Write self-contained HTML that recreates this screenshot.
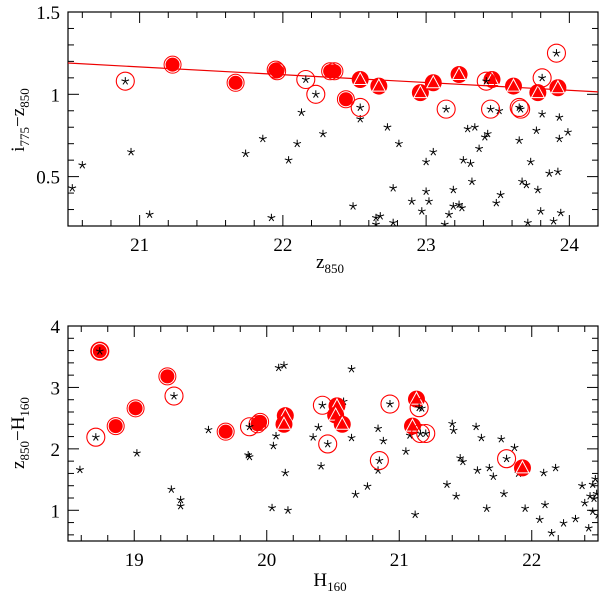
<!DOCTYPE html>
<html><head><meta charset="utf-8"><style>
body{margin:0;background:#fff;}
svg text{font-family:"Liberation Serif",serif;fill:#000;}
</style></head><body>
<svg id="chart" width="600" height="600" viewBox="0 0 600 600" xmlns="http://www.w3.org/2000/svg"></svg>
<script>
// ---------- TOP PANEL DATA (z850 vs i775-z850) ----------
const topFilledX=[21.23,21.67,21.96,21.95,22.33,22.36,22.44];
const topFilledY=[1.18,1.07,1.14,1.15,1.14,1.14,0.97];
const topTriX=[22.54,22.67,22.96,23.05,23.23,23.46,23.61,23.78,23.92];
const topTriY=[1.09,1.05,1.01,1.07,1.12,1.09,1.05,1.01,1.04];
const topOpenX=[20.90,22.16,22.23,22.54,23.14,23.42,23.45,23.65,23.66,23.81,23.91];
const topOpenY=[1.08,1.09,1.00,0.92,0.91,1.08,0.91,0.92,0.91,1.10,1.25];
const topStarX=[20.53,20.60,20.94,21.07,21.74,21.86,21.92,22.04,22.10,22.13,22.28,22.49,22.54,22.65,22.68,22.65,22.73,22.77,22.77,22.81,22.90,22.97,23.00,23.00,23.02,23.05,23.13,23.16,23.19,23.19,23.23,23.25,23.26,23.29,23.31,23.32,23.34,23.37,23.41,23.43,23.49,23.51,23.52,23.65,23.67,23.70,23.71,23.73,23.77,23.78,23.80,23.81,23.86,23.89,23.92,23.93,23.93,23.94,23.99];
const topStarY=[0.43,0.57,0.65,0.27,0.64,0.73,0.25,0.60,0.70,0.89,0.76,0.32,0.85,0.25,0.26,0.21,0.80,0.43,0.22,0.70,0.35,0.29,0.59,0.41,0.35,0.65,0.21,0.27,0.42,0.32,0.33,0.31,0.60,0.79,0.58,0.47,0.80,0.67,0.74,0.76,0.34,0.90,0.39,0.72,0.47,0.45,0.22,0.59,0.78,0.42,0.29,0.88,0.52,0.23,0.53,0.73,0.86,0.28,0.77];
const topLineX=[20.5,24.2];
const topLineY=[1.19,1.015];
const topXTicks=[21,22,23,24];
const topYTicks=[0.5,1,1.5];
// ---------- BOTTOM PANEL DATA (H160 vs z850-H160) ----------
const botFilledX=[18.74,18.86,19.01,19.25,19.69,19.93,19.95];
const botFilledY=[3.59,2.37,2.66,3.18,2.28,2.40,2.44];
const botTriX=[20.14,20.13,20.53,20.52,20.57,21.13,21.10,21.93];
const botTriY=[2.54,2.40,2.70,2.55,2.40,2.81,2.37,1.69];
const botOpenX=[18.74,18.71,19.30,19.87,20.42,20.46,20.85,20.93,21.15,21.16,21.20,21.81];
const botOpenY=[3.59,2.19,2.86,2.36,2.71,2.08,1.81,2.73,2.67,2.25,2.25,1.84];
const botStarX=[18.59,19.02,19.28,19.35,19.35,19.56,19.86,19.87,20.04,20.05,20.07,20.09,20.13,20.14,20.16,20.35,20.39,20.41,20.58,20.64,20.64,20.67,20.76,20.84,20.84,20.88,21.05,21.08,21.12,21.17,21.36,21.40,21.41,21.43,21.46,21.48,21.58,21.59,21.62,21.66,21.68,21.71,21.77,21.79,21.87,21.90,21.95,22.06,22.09,22.10,22.15,22.18,22.24,22.33,22.38,22.40,22.43,22.44,22.46,22.46,22.47,22.48,22.49,22.50];
const botStarY=[1.66,1.93,1.34,1.17,1.07,2.31,1.90,1.87,1.04,2.05,2.21,3.32,3.36,1.61,1.00,2.19,2.35,1.72,2.77,2.18,3.30,1.26,1.39,2.33,1.65,2.13,1.96,2.22,0.93,2.66,1.42,2.41,2.30,1.23,1.85,1.79,2.36,1.65,2.18,1.03,1.69,1.55,2.16,1.27,2.02,1.60,1.03,0.85,1.61,1.09,0.63,1.69,0.79,0.86,1.40,1.12,0.71,1.23,1.42,0.98,1.19,1.51,1.27,0.92];
const botXTicks=[19,20,21,22];
const botYTicks=[1,2,3,4];

const NS="http://www.w3.org/2000/svg";
const svg=document.getElementById('chart');
function mk(tag,attrs,parent){const e=document.createElementNS(NS,tag);for(const k in attrs)e.setAttribute(k,attrs[k]);(parent||svg).appendChild(e);return e;}
function lin(d0,d1,p0,p1){return v=>p0+(v-d0)*(p1-p0)/(d1-d0);}

function panel(cfg){
  const g=mk('g',{});
  
  
  const L=68,R=598,T=cfg.top,B=cfg.bottom;
  const sx=lin(cfg.xmin,cfg.xmax,L,R), sy=lin(cfg.ymin,cfg.ymax,B,T);
  const fr=mk('rect',{x:L,y:T,width:R-L,height:B-T,fill:'none',stroke:'#000','stroke-width':1.2},g);
  
  
  // ticks
  const tg=mk('g',{stroke:'#000','stroke-width':1},g);
  
  
  const nx=Math.round((cfg.xmax-cfg.xmin)/cfg.xminor);
  for(let i=0;i<=nx;i++){
    const v=Math.round((Math.ceil(cfg.xmin/cfg.xminor)+i)*cfg.xminor*100)/100;
    if(v<cfg.xmin-1e-6||v>cfg.xmax+1e-6)continue;
    const major=Math.abs(v-Math.round(v))<1e-6;
    const len=major?11:6, x=sx(v);
    mk('line',{x1:x,y1:B,x2:x,y2:B-len},tg);
    mk('line',{x1:x,y1:T,x2:x,y2:T+len},tg);
  }
  const ny=Math.round((cfg.ymax-cfg.ymin)/cfg.yminor);
  for(let i=0;i<=ny+1;i++){
    const v=Math.round((Math.ceil(cfg.ymin/cfg.yminor-1e-6)+i)*cfg.yminor*100)/100;
    if(v<cfg.ymin-1e-6||v>cfg.ymax+1e-6)continue;
    const major=Math.abs(v/cfg.ymajor-Math.round(v/cfg.ymajor))<1e-6;
    const len=major?11:6, y=sy(v);
    mk('line',{x1:L,y1:y,x2:L+len,y2:y},tg);
    mk('line',{x1:R,y1:y,x2:R-len,y2:y},tg);
  }
  cfg.xticks.forEach(v=>{
    const t=mk('text',{x:sx(v),y:B+25,'text-anchor':'middle','font-size':19},g);
    t.textContent=String(v);
    
    
  });
  cfg.yticks.forEach(v=>{
    const t=mk('text',{x:L-8,y:sy(v)+7,'text-anchor':'end','font-size':19},g);
    t.textContent=String(v);
    
    
  });
  // line
  if(cfg.lineX){
    const ln=mk('line',{x1:sx(cfg.lineX[0]),y1:sy(cfg.lineY[0]),x2:sx(cfg.lineX[1]),y2:sy(cfg.lineY[1]),stroke:'#e00','stroke-width':1.2},g);
    
    
  }
  const clip='clip-'+cfg.name;
  const cp=mk('clipPath',{id:clip},g);mk('rect',{x:L,y:T,width:R-L,height:B-T},cp);
  const pg=mk('g',{'clip-path':'url(#'+clip+')'},g);
  function star(x,y,name){
    const s=mk('g',{stroke:'#000','stroke-width':1},pg);
    
    
    for(let k=0;k<5;k++){const a=-Math.PI/2+k*2*Math.PI/5;mk('line',{x1:x,y1:y,x2:x+4*Math.cos(a),y2:y+4*Math.sin(a)},s);}
  }
  cfg.starX.forEach((v,i)=>star(sx(v),sy(cfg.starY[i]),'field-star'));
  cfg.filledX.forEach((v,i)=>{
    const x=sx(v),y=sy(cfg.filledY[i]);
    const c=mk('circle',{cx:x,cy:y,r:7,fill:'#f00'},pg);
    
    
    mk('circle',{cx:x,cy:y,r:8.5,fill:'none',stroke:'#f00','stroke-width':1},pg);
  });
  cfg.triX.forEach((v,i)=>{
    const x=sx(v),y=sy(cfg.triY[i]);
    const c=mk('circle',{cx:x,cy:y,r:8.5,fill:'#f00'},pg);
    
    
    mk('polygon',{points:`${x},${y-7} ${x-6.5},${y+5} ${x+6.5},${y+5}`,fill:'#f00',stroke:'#fff','stroke-width':1},pg);
  });
  cfg.openX.forEach((v,i)=>{
    const x=sx(v),y=sy(cfg.openY[i]);
    star(x,y,'circled-star');
    const c=mk('circle',{cx:x,cy:y,r:9,fill:'none',stroke:'#f00','stroke-width':1.1},pg);
    
    
  });
}

panel({name:'top-panel',top:12,bottom:226,xmin:20.5,xmax:24.2,ymin:0.2,ymax:1.5,xminor:0.2,yminor:0.1,ymajor:0.5,
  xticks:topXTicks,yticks:topYTicks,filledX:topFilledX,filledY:topFilledY,triX:topTriX,triY:topTriY,openX:topOpenX,openY:topOpenY,starX:topStarX,starY:topStarY,lineX:topLineX,lineY:topLineY});
panel({name:'bottom-panel',top:326,bottom:541,xmin:18.5,xmax:22.5,ymin:0.5,ymax:4,xminor:0.2,yminor:0.2,ymajor:1,
  xticks:botXTicks,yticks:botYTicks,filledX:botFilledX,filledY:botFilledY,triX:botTriX,triY:botTriY,openX:botOpenX,openY:botOpenY,starX:botStarX,starY:botStarY});

function label(html,x,y,rot,name){
  const t=mk('text',{x:x,y:y,'text-anchor':'middle','font-size':19});
  if(rot)t.setAttribute('transform',`rotate(-90 ${x} ${y})`);
  t.innerHTML=html;
  
  
}
label('z<tspan font-size="13" dy="5">850</tspan>',330,268,false,'top-x-axis-title');
label('i<tspan font-size="13" dy="5">775</tspan><tspan dy="-5">−z</tspan><tspan font-size="13" dy="5">850</tspan>',24,120,true,'top-y-axis-title');
label('H<tspan font-size="13" dy="5">160</tspan>',330,586,false,'bottom-x-axis-title');
label('z<tspan font-size="13" dy="5">850</tspan><tspan dy="-5">−H</tspan><tspan font-size="13" dy="5">160</tspan>',24,433,true,'bottom-y-axis-title');
</script>
</body></html>
